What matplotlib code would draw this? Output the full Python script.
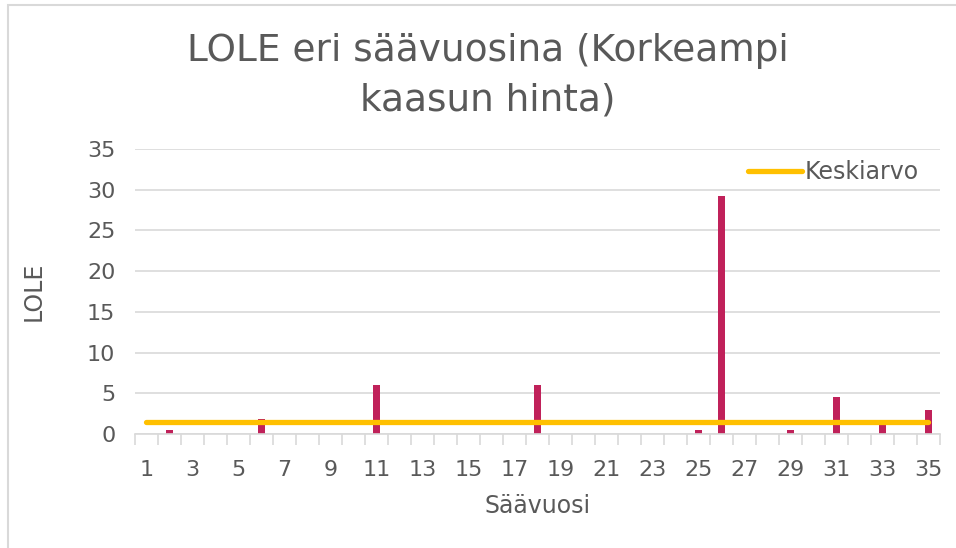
import numpy as np
import matplotlib.pyplot as plt
from matplotlib.patches import Rectangle

# Säävuodet 1..35 ja LOLE-arvot (tuntia)
vuodet = np.arange(1, 36)
lole = [0, 0.5, 0, 0, 0, 1.8, 0, 0, 0, 0,
        6.0, 0, 0, 0, 0, 0, 0, 6.0, 0, 0,
        0, 0, 0, 0, 0.5, 29.2, 0, 0, 0.5, 0,
        4.5, 0, 1.3, 0, 2.9]
keskiarvo = np.mean(lole)

harmaa = '#595959'

fig = plt.figure(figsize=(9.56, 5.48), dpi=100)
ax = fig.add_axes([0.141, 0.208, 0.842, 0.52])

# Kehys kuvan ympärillä
fig.patches.append(Rectangle((8 / 956, -0.1), 1.2, 0.1 + (548 - 5) / 548,
                             transform=fig.transFigure, fill=False,
                             edgecolor='#D9D9D9', linewidth=1.5))

ax.bar(vuodet, lole, width=0.3, color='#C0215A', zorder=2)
ax.plot(vuodet, np.full(len(vuodet), keskiarvo), color='#FFC000',
        linewidth=3.8, solid_capstyle='round', zorder=3, label='Keskiarvo')

ax.set_xlim(0.5, 35.5)
ax.set_ylim(0, 35)
ax.set_yticks(np.arange(0, 36, 5))
ax.yaxis.grid(True, color='#D9D9D9', linewidth=1.2)
ax.set_axisbelow(True)

ax.set_xticks(vuodet[::2])
ax.set_xticks(np.arange(0.5, 36, 1), minor=True)
ax.tick_params(axis='x', which='major', length=0, pad=19)
ax.tick_params(axis='x', which='minor', length=8, width=1.2, color='#D9D9D9')
ax.tick_params(axis='y', length=0, pad=14)
ax.tick_params(labelsize=16, labelcolor=harmaa)

for s in ['top', 'right', 'left']:
    ax.spines[s].set_visible(False)
ax.spines['bottom'].set_color('#D9D9D9')
ax.spines['bottom'].set_linewidth(1.2)

ax.set_xlabel('Säävuosi', fontsize=17, color=harmaa, labelpad=10)
ax.set_ylabel('LOLE', fontsize=17, color=harmaa, labelpad=30)

fig.text(0.51, 0.94, 'LOLE eri säävuosina (Korkeampi\nkaasun hinta)',
         ha='center', va='top', fontsize=27, color=harmaa, linespacing=1.5)

ax.legend(loc='upper right', bbox_to_anchor=(1.0, 1.035), frameon=False,
          fontsize=17, labelcolor=harmaa, handlelength=2.3, handletextpad=0.1)

fig.savefig('out.png', dpi=100)
